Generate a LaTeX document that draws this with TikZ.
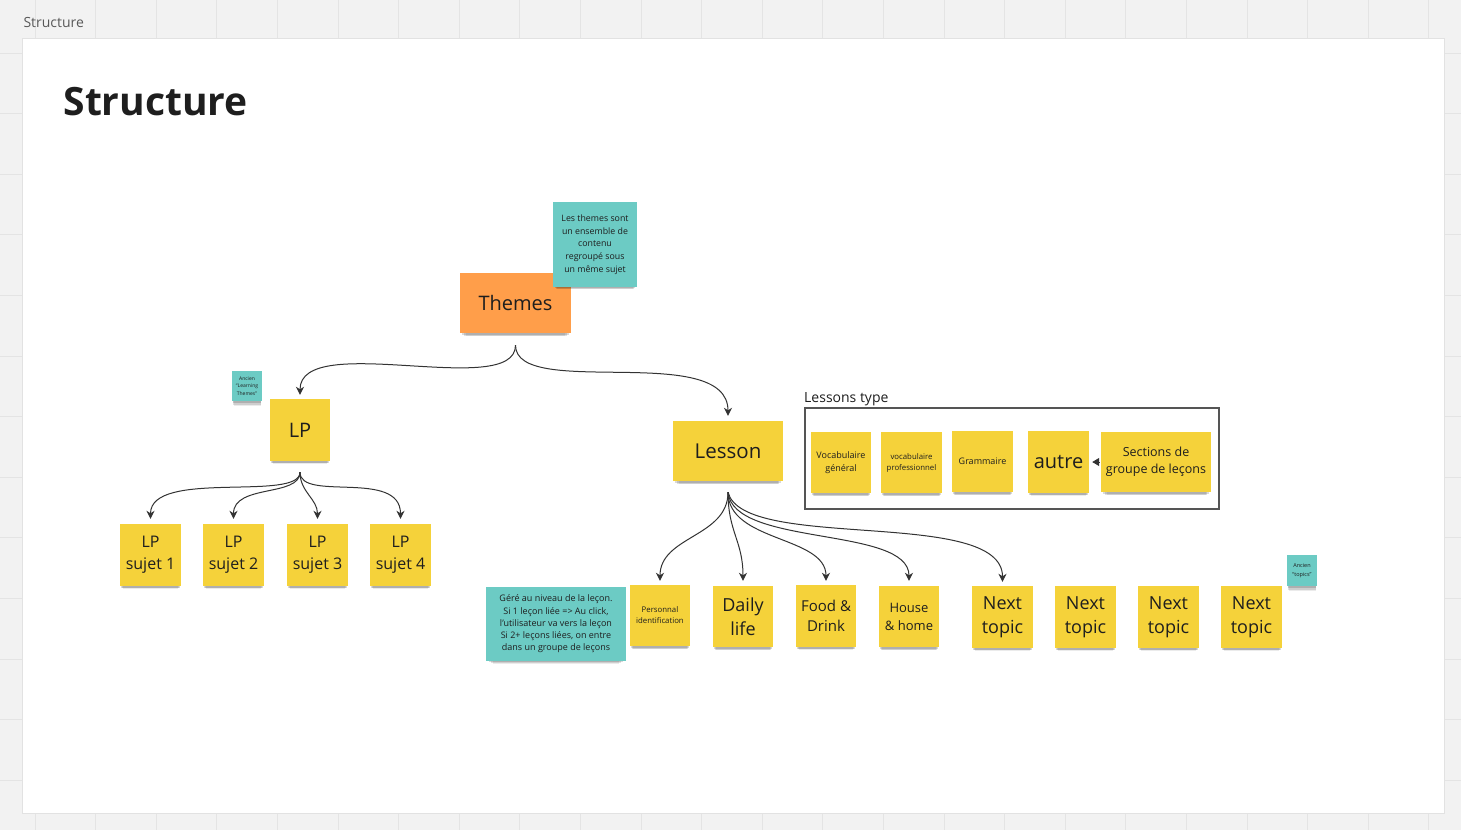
\documentclass[tikz,border=0pt]{standalone}
\usepackage{fontspec}
\setmainfont{Open Sans}
\usetikzlibrary{arrows.meta,shadows}
\definecolor{bgc}{HTML}{F2F2F2}
\definecolor{gridc}{HTML}{E4E4E4}
\definecolor{panelb}{HTML}{E2E2E2}
\definecolor{sy}{HTML}{F5D23A}
\definecolor{st}{HTML}{6CCBC4}
\definecolor{so}{HTML}{FF9E4A}
\definecolor{ink}{HTML}{1E1E1E}
\definecolor{wire}{HTML}{333333}
\definecolor{boxc}{HTML}{555555}
\tikzset{
  note/.style={rectangle, inner sep=0pt, align=center, text=ink,
    drop shadow={shadow xshift=0pt, shadow yshift=-7pt, shadow scale=0.90, opacity=0.08, fill=black},
    drop shadow={shadow xshift=0pt, shadow yshift=-5pt, shadow scale=0.93, opacity=0.12, fill=black},
    drop shadow={shadow xshift=0pt, shadow yshift=-3pt, shadow scale=0.96, opacity=0.15, fill=black}},
  ynote/.style={note, fill=sy},
  tnote/.style={note, fill=st},
  onote/.style={note, fill=so},
  sq/.style={minimum width=61pt, minimum height=62pt},
  wide/.style={minimum width=111pt, minimum height=60pt},
  tiny/.style={minimum width=30pt, minimum height=30pt},
  wirearr/.style={draw=wire, line width=1pt, -{Stealth[length=8pt,width=8pt,inset=2.5pt]}},
  fbig/.style={font=\fontsize{20}{24}\selectfont},
  fmid/.style={font=\fontsize{16}{22}\selectfont},
  fnext/.style={font=\fontsize{18}{24}\selectfont},
}
\begin{document}
\begin{tikzpicture}[x=1pt,y=-1pt]
\useasboundingbox (0,0) rectangle (1461,830);
\fill[bgc] (0,0) rectangle (1461,830);
\foreach \i in {0,...,24} {\draw[gridc, line width=0.7pt] (35+60.6*\i,0) -- (35+60.6*\i,830);}
\foreach \j in {0,...,13} {\draw[gridc, line width=0.7pt] (0,53+60.6*\j) -- (1461,53+60.6*\j);}
\draw[panelb, fill=white, line width=0.7pt] (22,38) rectangle (1444,813);

\node[anchor=west, text=black!65, font=\fontsize{14}{16}\selectfont] (lbl) at (20,22) {Structure};
\node[anchor=west, text=ink, font=\fontsize{39}{44}\bfseries\selectfont] (title) at (60,102) {Structure};

% Themes
\node[onote, wide, fbig] (themes) at (515.5,303) {Themes};
\node[tnote, minimum width=84pt, minimum height=85pt, font=\fontsize{8.8}{12.75}\selectfont] (tnote1) at (595,244.5)
  {Les themes sont\\un ensemble de\\contenu\\regroupé sous\\un même sujet};

% LP branch
\node[tnote, tiny, font=\fontsize{5}{7.5}\selectfont] (ancien1) at (247,386) {Ancien\\“Learning\\Themes”};
\node[ynote, minimum width=60pt, minimum height=62pt, fbig] (lp) at (300,430) {LP};
\node[ynote, sq, fmid] (s1) at (150.5,555) {LP\\sujet 1};
\node[ynote, sq, fmid] (s2) at (233.5,555) {LP\\sujet 2};
\node[ynote, sq, fmid] (s3) at (317.5,555) {LP\\sujet 3};
\node[ynote, sq, fmid] (s4) at (400.5,555) {LP\\sujet 4};

% Lesson branch
\node[ynote, minimum width=110pt, minimum height=60pt, font=\fontsize{20.5}{24}\selectfont] (lesson) at (728,451) {Lesson};
\node[anchor=south west, inner sep=0pt, text=ink, font=\fontsize{14}{16}\selectfont] (ltlabel) at (804,406) {Lessons type};
\node[draw=boxc, line width=1.3pt, minimum width=414pt, minimum height=101pt, inner sep=0pt] (ltbox) at (1012,458.5) {};
\node[ynote, minimum width=60pt, minimum height=61pt, font=\fontsize{9}{13}\selectfont] (voc) at (841,462.5) {Vocabulaire\\général};
\node[ynote, minimum width=61pt, minimum height=61pt, font=\fontsize{7.8}{11}\selectfont] (vocpro) at (911.5,462.5) {vocabulaire\\professionnel};
\node[ynote, minimum width=61pt, minimum height=61pt, font=\fontsize{9}{13}\selectfont] (gram) at (982.5,461.5) {Grammaire};
\node[ynote, sq, fbig] (autre) at (1058.5,462) {autre};
\node[ynote, minimum width=110pt, minimum height=60pt, font=\fontsize{12.5}{17}\selectfont] (sections) at (1156,462) {Sections de\\groupe de leçons};

\node[tnote, minimum width=140pt, minimum height=74pt, font=\fontsize{9}{12.2}\selectfont] (gere) at (556,624)
  {Géré au niveau de la leçon.\\Si 1 leçon liée => Au click,\\l'utilisateur va vers la leçon\\Si 2+ leçons liées, on entre\\dans un groupe de leçons};
\node[ynote, minimum width=60pt, minimum height=61pt, font=\fontsize{7.8}{11}\selectfont] (perso) at (660,615.5) {Personnal\\identification};
\node[ynote, minimum width=60pt, minimum height=61pt, fnext] (daily) at (743,616.5) {Daily\\life};
\node[ynote, minimum width=60pt, minimum height=62pt, font=\fontsize{15}{20}\selectfont] (food) at (826,616) {Food \&\\Drink};
\node[ynote, minimum width=60pt, minimum height=61pt, font=\fontsize{13}{18}\selectfont] (house) at (909,616.5) {House\\\& home};
\node[ynote, sq, fnext] (n1) at (1002.5,617) {Next\\topic};
\node[ynote, sq, fnext] (n2) at (1085.5,617) {Next\\topic};
\node[ynote, sq, fnext] (n3) at (1168.5,617) {Next\\topic};
\node[ynote, sq, fnext] (n4) at (1251.5,617) {Next\\topic};
\node[tnote, minimum width=30pt, minimum height=31pt, font=\fontsize{5.5}{9}\selectfont] (ancien2) at (1302,570.5) {Ancien\\“topics”};

% connectors
\draw[wirearr] ([yshift=-12pt]themes.south) .. controls +(0,55) and +(0,-65) .. ([yshift=4pt]lp.north);
\draw[wirearr] ([yshift=-12pt]themes.south) .. controls +(0,55) and +(0,-75) .. ([yshift=5pt]lesson.north);

\draw[wirearr] ([yshift=-11pt]lp.south) .. controls +(0,30) and +(0,-50) .. ([yshift=5pt]s1.north);
\draw[wirearr] ([yshift=-11pt]lp.south) .. controls +(0,25) and +(0,-35) .. ([yshift=5pt]s2.north);
\draw[wirearr] ([yshift=-11pt]lp.south) .. controls +(0,20) and +(0,-20) .. ([yshift=5pt]s3.north);
\draw[wirearr] ([yshift=-11pt]lp.south) .. controls +(0,30) and +(0,-50) .. ([yshift=5pt]s4.north);

\draw[wirearr] ([yshift=-11pt]lesson.south) .. controls +(0,45) and +(0,-45) .. ([yshift=4pt]perso.north);
\draw[wirearr] ([yshift=-11pt]lesson.south) .. controls +(0,40) and +(0,-40) .. ([yshift=5pt]daily.north);
\draw[wirearr] ([yshift=-11pt]lesson.south) .. controls +(0,50) and +(0,-45) .. ([yshift=4pt]food.north);
\draw[wirearr] ([yshift=-11pt]lesson.south) .. controls +(5,55) and +(0,-55) .. ([yshift=5pt]house.north);
\draw[wirearr] ([yshift=-11pt]lesson.south) .. controls +(15,60) and +(0,-75) .. ([yshift=4pt]n1.north);

\draw[draw=wire, line width=1pt, -{Triangle[length=7pt,width=8pt]}] ([xshift=-2pt]sections.west) -- ([xshift=3pt]autre.east);
\end{tikzpicture}
\end{document}
